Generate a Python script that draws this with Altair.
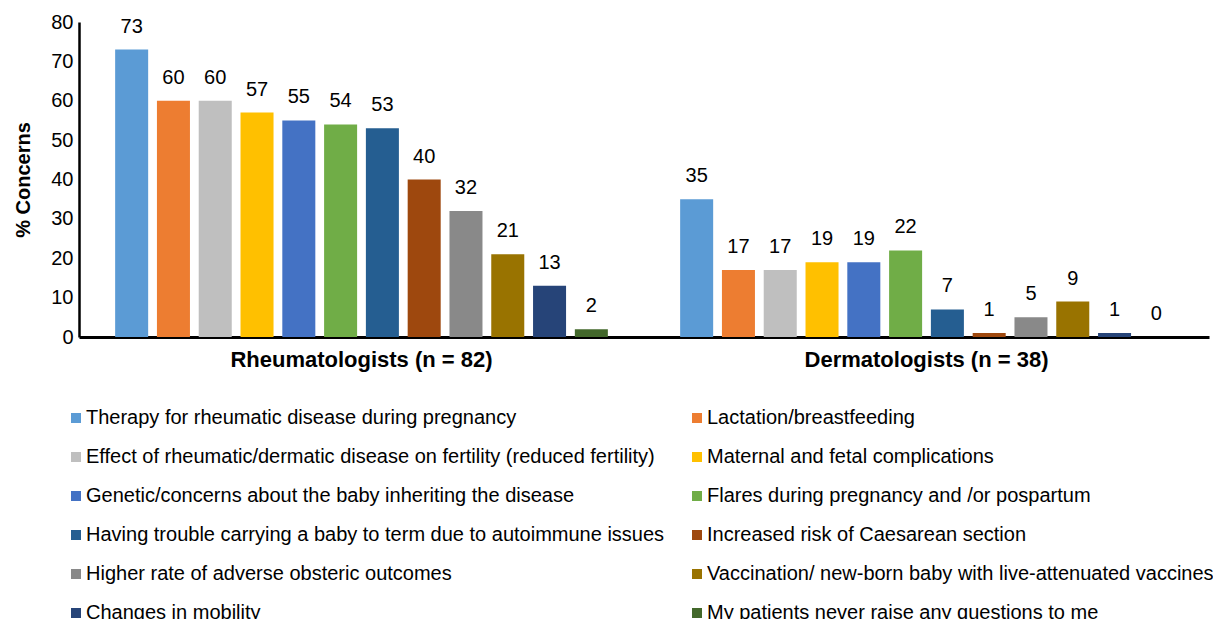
import altair as alt
import pandas as pd

groups = ["Rheumatologists (n = 82)", "Dermatologists (n = 38)"]
categories = [
    "Therapy for rheumatic disease during pregnancy",
    "Lactation/breastfeeding",
    "Effect of rheumatic/dermatic disease on fertility (reduced fertility)",
    "Maternal and fetal complications",
    "Genetic/concerns about the baby inheriting the disease",
    "Flares during pregnancy and /or pospartum",
    "Having trouble carrying a baby to term due to autoimmune issues",
    "Increased risk of Caesarean section",
    "Higher rate of adverse obsteric outcomes",
    "Vaccination/ new-born baby with live-attenuated vaccines",
    "Changes in mobility",
    "My patients never raise any questions to me",
]
rheum_values = [73, 60, 60, 57, 55, 54, 53, 40, 32, 21, 13, 2]
derm_values = [35, 17, 17, 19, 19, 22, 7, 1, 5, 9, 1, 0]
colors = ["#5B9BD5", "#ED7D31", "#BFBFBF", "#FFC000", "#4472C4", "#70AD47",
          "#255E91", "#9E480E", "#898989", "#997300", "#264478", "#43682B"]
y_ticks = [0, 10, 20, 30, 40, 50, 60, 70, 80]

rows = []
for c, v in zip(categories, rheum_values):
    rows.append({"group": groups[0], "category": c, "value": v})
for c, v in zip(categories, derm_values):
    rows.append({"group": groups[1], "category": c, "value": v})
df = pd.DataFrame(rows)

# legend lays entries out column by column; reorder so it reads row by row (2 columns)
legend_order = categories[0::2] + categories[1::2]
legend_colors = colors[0::2] + colors[1::2]

FONT = "Liberation Sans"

x_enc = alt.X("group:N", sort=groups,
              scale=alt.Scale(paddingInner=0, paddingOuter=0),
              axis=alt.Axis(title=None, labelAngle=0, labelFontSize=22, labelFontWeight="bold",
                            labelColor="black", labelPadding=12, ticks=False, labelLimit=600,
                            domainColor="black", domainWidth=3))
xo_enc = alt.XOffset("category:N", sort=categories,
                     scale=alt.Scale(paddingInner=0.21, paddingOuter=0.865))
y_enc = alt.Y("value:Q", scale=alt.Scale(domain=[0, 80], nice=False),
              axis=alt.Axis(title="% Concerns", values=y_ticks, grid=False,
                            ticks=False, labelFontSize=20, labelColor="black", labelPadding=6,
                            labelOverlap=False,
                            titleFontSize=20, titleFontWeight="bold", titleColor="black",
                            titlePadding=17, domainColor="black", domainWidth=2.5))

bars = alt.Chart(df).mark_bar().encode(
    x=x_enc, xOffset=xo_enc, y=y_enc,
    color=alt.Color("category:N", sort=legend_order,
                    scale=alt.Scale(domain=legend_order, range=legend_colors),
                    legend=alt.Legend(title=None, orient="none", legendX=-13, legendY=386,
                                      columns=2, columnPadding=22, rowPadding=19,
                                      symbolType="square", symbolSize=100, symbolStrokeWidth=0,
                                      labelFontSize=20, labelColor="black", labelLimit=900,
                                      labelOffset=0, padding=0)),
)

labels = alt.Chart(df).mark_text(fontSize=20, baseline="alphabetic", dy=-17, color="black",
                                 font=FONT).encode(
    x=x_enc, xOffset=xo_enc, y=y_enc, text="value:Q",
)

chart = alt.layer(bars, labels).properties(
    width=1130, height=315,
    autosize=alt.AutoSizeParams(type="none"),
    padding={"left": 71, "top": 14, "right": 4, "bottom": 282},
).configure(font=FONT).configure_view(stroke=None)

chart.save("out.html", embed_options={"renderer": "svg", "actions": False})
